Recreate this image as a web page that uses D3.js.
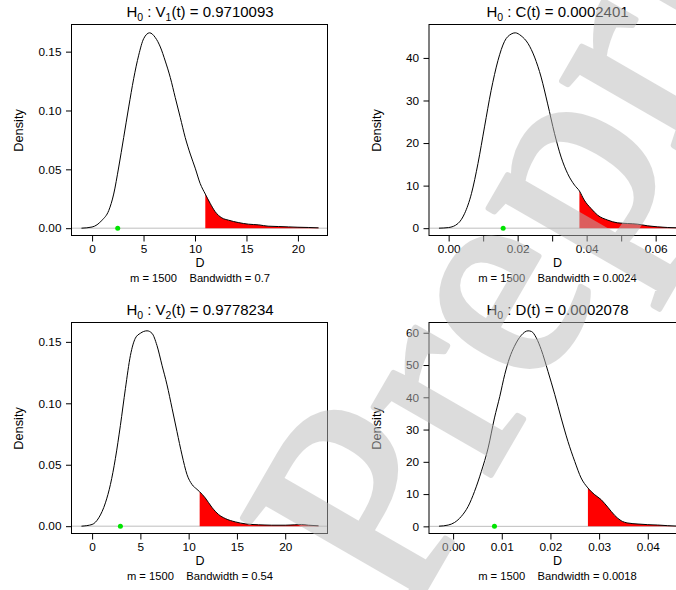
<!DOCTYPE html>
<html>
<head>
<meta charset="utf-8">
<script src="https://cdn.jsdelivr.net/npm/d3@7"></script>
<style>
  body { margin: 0; background: #fff; }
  text { font-family: "Liberation Sans", Arial, Helvetica, sans-serif; white-space: pre; }
</style>
</head>
<body>
<svg id="chart" width="676" height="590"></svg>
<script>
// density curves, as [D, density]
var v1Curve = [[-1.03,0],[0,0.001],[0.97,0.0068],[1.62,0.015],[2.1,0.029],[2.59,0.052],[3.07,0.077],[3.56,0.103],
  [4.04,0.127],[4.53,0.147],[5.01,0.161],[5.59,0.166],[6.14,0.162],[6.63,0.154],[7.11,0.142],[7.6,0.128],
  [8.08,0.111],[8.57,0.094],[9.05,0.077],[9.54,0.063],[10.02,0.051],[10.5,0.038],[11.0,0.029],[11.48,0.021],
  [11.96,0.014],[12.6,0.0088],[13.26,0.0068],[14.2,0.0048],[15.2,0.0034],[16.2,0.0028],[17.1,0.0017],
  [18.1,0.0014],[19.1,0.0011],[20.0,0.0008],[21.0,0.0006],[22.0,0.0003]];
var cCurve = [[-0.0028,0],[0,0.15],[0.0027,1.1],[0.0046,3.4],[0.0066,8.1],[0.0085,15.2],[0.0104,23.8],
  [0.0123,32.3],[0.0143,39.4],[0.0162,43.9],[0.0181,45.6],[0.0193,45.9],[0.021,45.2],[0.023,43.4],
  [0.0249,40.2],[0.0268,35.5],[0.0287,29.2],[0.0307,22.2],[0.0326,16.7],[0.0345,12.8],[0.0365,10.1],
  [0.0379,8.75],[0.0393,6.6],[0.0413,4.6],[0.0432,3.05],[0.0461,1.9],[0.049,1.25],[0.0519,1.1],
  [0.0548,0.94],[0.0577,0.55],[0.0606,0.31],[0.0635,0.16],[0.0659,0.1]];
var v2Curve = [[-1.1,0],[0,0.0014],[0.69,0.0068],[1.38,0.019],[1.9,0.034],[2.41,0.055],[2.93,0.082],
  [3.45,0.112],[3.97,0.139],[4.48,0.153],[5.0,0.157],[5.69,0.159],[6.2,0.157],[6.72,0.147],[7.24,0.131],
  [7.76,0.115],[8.28,0.096],[8.79,0.077],[9.31,0.058],[9.83,0.042],[10.34,0.034],[10.86,0.030],
  [11.14,0.028],[11.72,0.023],[12.4,0.0154],[13.1,0.0095],[13.8,0.0062],[14.83,0.0035],[15.86,0.0019],
  [17.24,0.0011],[18.6,0.0008],[20.0,0.0008],[21.0,0.0011],[21.7,0.0014],[22.4,0.0008],[23.45,0.0003]];
var dCurve = [[-0.0029,0.05],[-0.001,0.4],[0.0003,1.2],[0.0017,3.1],[0.0031,6.2],[0.0044,10.8],[0.0058,17.0],
  [0.0072,24.3],[0.0085,33.6],[0.0096,40.3],[0.0106,47.0],[0.0116,52.2],[0.0126,55.8],[0.014,59.2],
  [0.0154,60.6],[0.0161,60.4],[0.0171,58.4],[0.0181,54.8],[0.0195,48.0],[0.0209,40.8],[0.0222,33.6],
  [0.0236,26.3],[0.025,20.1],[0.0263,15.0],[0.0277,11.9],[0.0291,9.8],[0.0304,8.3],[0.0318,5.9],
  [0.0332,3.4],[0.0345,1.76],[0.0359,1.03],[0.038,0.72],[0.04,0.52],[0.042,0.41],[0.0441,0.21],[0.0458,0.1]];

// critical value (start of red tail) and observed statistic (green dot)
var cutoffs = [11.0, 0.0379, 11.14, 0.0277];
var observed = [2.49, 0.0158, 2.93, 0.0085];

// titles: even entries normal, odd entries subscript
var v1Title = ["H", "0", " : V", "1", "(t) = 0.9710093"];
var cTitle = ["H", "0", " : C(t) = 0.0002401"];
var v2Title = ["H", "0", " : V", "2", "(t) = 0.9778234"];
var dTitle = ["H", "0", " : D(t) = 0.0002078"];

var bandwidths = ["0.7", "0.0024", "0.54", "0.0018"];
var sampleSize = 1500;

// ticks
var vXTicks = [0, 5, 10, 15, 20];
var vXLabels = ["0", "5", "10", "15", "20"];
var vYTicks = [0, 0.05, 0.10, 0.15];
var vYLabels = ["0.00", "0.05", "0.10", "0.15"];
var cXTicks = [0, 0.01, 0.02, 0.03, 0.04, 0.05, 0.06];
var cXLabels = ["0.00", "", "0.02", "", "0.04", "", "0.06"];
var cYTicks = [0, 10, 20, 30, 40];
var dXTicks = [0, 0.01, 0.02, 0.03, 0.04];
var dXLabels = ["0.00", "0.01", "0.02", "0.03", "0.04"];
var dYTicks = [0, 10, 20, 30, 40, 50, 60];

var panels = [
  {curve: v1Curve, title: v1Title, xTicks: vXTicks, xLabels: vXLabels, yTicks: vYTicks, yLabels: vYLabels, ox: 0, oy: 0},
  {curve: cCurve, title: cTitle, xTicks: cXTicks, xLabels: cXLabels, yTicks: cYTicks, yLabels: cYTicks.map(String), ox: 357.5, oy: 0},
  {curve: v2Curve, title: v2Title, xTicks: vXTicks, xLabels: vXLabels, yTicks: vYTicks, yLabels: vYLabels, ox: 0, oy: 298},
  {curve: dCurve, title: dTitle, xTicks: dXTicks, xLabels: dXLabels, yTicks: dYTicks, yLabels: dYTicks.map(String), ox: 357.5, oy: 298}
];

var plotLeft = 72, plotWidth = 256, plotTop = 25, plotHeight = 211;
var fontSize = 11.8;

var svg = d3.select('#chart');
svg.append('rect').attr('width', 676).attr('height', 590).attr('fill', '#fff');

// R extends the data range by 4% on each side
function rRange(ext){
  var pad = (ext[1] - ext[0]) * 0.04;
  return [ext[0] - pad, ext[1] + pad];
}

panels.forEach(function(p, i){
  var g = svg.append('g').attr('transform', 'translate(' + p.ox + ',' + p.oy + ')');

  var x = d3.scaleLinear()
    .domain(rRange(d3.extent(p.curve, function(d){ return d[0]; })))
    .range([plotLeft, plotLeft + plotWidth]);
  var y = d3.scaleLinear()
    .domain(rRange(d3.extent(p.curve, function(d){ return d[1]; })))
    .range([plotTop + plotHeight, plotTop]);

  var line = d3.line()
    .x(function(d){ return x(d[0]); })
    .y(function(d){ return y(d[1]); })
    .curve(d3.curveMonotoneX);
  var area = d3.area()
    .x(function(d){ return x(d[0]); })
    .y0(y(0))
    .y1(function(d){ return y(d[1]); })
    .curve(d3.curveMonotoneX);

  // zero line
  g.append('line')
    .attr('x1', plotLeft).attr('x2', plotLeft + plotWidth)
    .attr('y1', y(0)).attr('y2', y(0))
    .style('stroke', '#bebebe')
    .style('stroke-width', 1);

  // red tail beyond the cutoff
  var tail = p.curve.filter(function(d){ return d[0] >= cutoffs[i]; });
  g.append('path')
    .attr('d', area(tail))
    .style('fill', '#ff0000');

  // density curve
  g.append('path')
    .attr('d', line(p.curve))
    .style('fill', 'none')
    .style('stroke', 'black')
    .style('stroke-width', 1);

  // observed value
  g.append('circle')
    .attr('cx', x(observed[i]))
    .attr('cy', y(0))
    .attr('r', 2.5)
    .style('fill', '#00e400');

  // box
  g.append('rect')
    .attr('x', plotLeft - 0.5).attr('y', plotTop - 0.5)
    .attr('width', plotWidth).attr('height', plotHeight)
    .style('fill', 'none')
    .style('stroke', 'black')
    .style('stroke-width', 1);

  // axes
  var xAxis = d3.axisBottom(x)
    .tickValues(p.xTicks)
    .tickFormat(function(d, k){ return p.xLabels[k]; })
    .tickSize(6).tickSizeOuter(0).tickPadding(3);
  var gx = g.append('g')
    .attr('transform', 'translate(0,' + (plotTop + plotHeight - 0.5) + ')')
    .call(xAxis);
  gx.select('.domain').remove();

  var yAxis = d3.axisLeft(y)
    .tickValues(p.yTicks)
    .tickFormat(function(d, k){ return p.yLabels[k]; })
    .tickSize(5.5).tickSizeOuter(0).tickPadding(4.5);
  var gy = g.append('g')
    .attr('transform', 'translate(' + (plotLeft - 0.5) + ',0)')
    .call(yAxis);
  gy.select('.domain').remove();

  g.selectAll('.tick text')
    .attr('font-family', null)
    .style('font-size', fontSize + 'px')
    .style('fill', '#000');
  gx.attr('font-family', null).attr('font-size', null);
  gy.attr('font-family', null).attr('font-size', null);

  // title with subscripts
  var title = g.append('text')
    .attr('x', plotLeft + plotWidth / 2)
    .attr('y', 16.5)
    .attr('text-anchor', 'middle')
    .style('font-size', '15px');
  p.title.forEach(function(part, k){
    var t = title.append('tspan').text(part);
    if (k % 2 === 1) t.attr('dy', 4).style('font-size', '10.5px');
    else if (k > 0) t.attr('dy', -4);
  });

  // axis titles
  g.append('text')
    .attr('transform', 'translate(23,' + (plotTop + plotHeight / 2) + ') rotate(-90)')
    .attr('text-anchor', 'middle')
    .style('font-size', '12.8px')
    .text('Density');
  g.append('text')
    .attr('x', plotLeft + plotWidth / 2)
    .attr('y', 266.8)
    .attr('text-anchor', 'middle')
    .style('font-size', '12.5px')
    .text('D');
  g.append('text')
    .attr('x', plotLeft + plotWidth / 2)
    .attr('y', 281.5)
    .attr('text-anchor', 'middle')
    .style('font-size', '11.2px')
    .text('m = ' + sampleSize + '    Bandwidth = ' + bandwidths[i]);
});

// watermark over everything, drawn opaque inside a half-transparent group
svg.append('g')
  .attr('opacity', 0.5)
  .append('text')
  .attr('transform', 'translate(406,622) rotate(-60)')
  .style('font-family', '"Liberation Serif", "Times New Roman", serif')
  .style('font-size', '295px')
  .style('fill', '#bbbbbb')
  .style('stroke', '#bbbbbb')
  .style('stroke-width', 6)
  .style('stroke-linejoin', 'round')
  .text('Preprint');
</script>
</body>
</html>
